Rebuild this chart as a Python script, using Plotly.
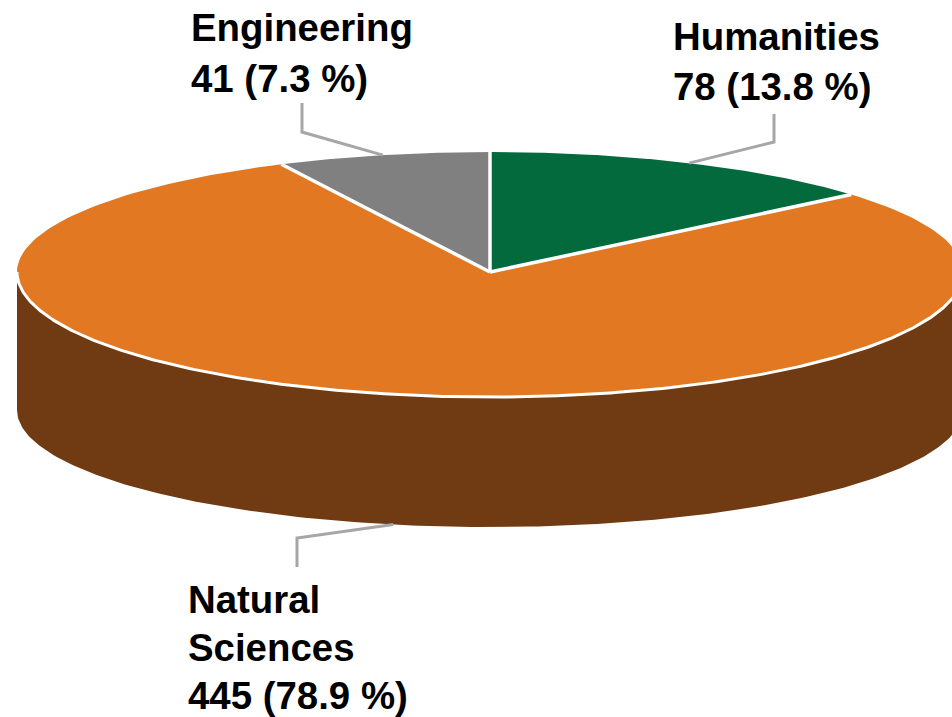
import numpy as np
import plotly.graph_objects as go

# Datos del grafico (sentido horario desde las 12)
categorias = ["Humanities", "Natural Sciences", "Engineering"]
valores = [78, 445, 41]
colores = ["#026A3C", "#E27822", "#808080"]
color_lateral = "#703B12"
color_guia = "#A6A6A6"

# Lineas de cada etiqueta: x izquierda, y central
lineas_etiqueta = {
    "Humanities": [("Humanities", 673, 36)],
    "Natural Sciences": [("Natural", 188, 599), ("Sciences", 188, 647)],
    "Engineering": [("Engineering", 191, 27)],
}
linea_valor = {"Humanities": (673, 86), "Natural Sciences": (188, 695), "Engineering": (191, 78)}
# Codo de la linea guia y final junto al texto
guias = {
    "Humanities": [(774, 142), (774, 114)],
    "Natural Sciences": [(297, 538), (297, 567)],
    "Engineering": [(302, 132), (302, 103)],
}

# Geometria de la elipse en pixeles
cx, cy = 490, 272
rx = 473
ry_atras, ry_frente = 120, 125
cy_base, ry_base = 410, 117


def borde(ang):
    # angulo en grados, 0 arriba y sentido horario
    a = np.radians(ang)
    c = np.cos(a)
    return cx + rx * np.sin(a), cy - c * np.where(c > 0, ry_atras, ry_frente)


def borde_base(ang):
    a = np.radians(ang)
    return cx + rx * np.sin(a), cy_base - ry_base * np.cos(a)


total = sum(valores)
angulos = np.cumsum([0] + [v / total * 360 for v in valores])

fig = go.Figure()

# Lateral: solo la parte frontal de cada porcion
for i, cat in enumerate(categorias):
    ini, fin = max(angulos[i], 90), min(angulos[i + 1], 270)
    if fin <= ini:
        continue
    t = np.linspace(ini, fin, 200)
    xa, ya = borde(t)
    xb, yb = borde_base(t[::-1])
    fig.add_trace(go.Scatter(x=np.r_[xa, xb], y=np.r_[ya, yb], mode="lines", fill="toself",
                             fillcolor=color_lateral, line=dict(width=0), hoverinfo="skip"))

# Cara superior
for i, cat in enumerate(categorias):
    t = np.linspace(angulos[i], angulos[i + 1], 200)
    xa, ya = borde(t)
    fig.add_trace(go.Scatter(x=np.r_[cx, xa, cx], y=np.r_[cy, ya, cy], mode="lines", fill="toself",
                             fillcolor=colores[i], line=dict(width=0), hoverinfo="skip"))

# Separaciones blancas: radios y borde frontal
for ang in angulos[:-1]:
    xa, ya = borde(ang)
    fig.add_trace(go.Scatter(x=[cx, float(xa)], y=[cy, float(ya)], mode="lines",
                             line=dict(color="white", width=3.5), hoverinfo="skip"))
t = np.linspace(90, 270, 300)
xa, ya = borde(t)
fig.add_trace(go.Scatter(x=xa, y=ya, mode="lines", line=dict(color="white", width=3), hoverinfo="skip"))

# Lineas guia y etiquetas
anotaciones = []
for i, cat in enumerate(categorias):
    medio = (angulos[i] + angulos[i + 1]) / 2
    mx, my = borde(medio)
    if np.cos(np.radians(medio)) < 0:
        my = borde_base(medio)[1]
    puntos = [(float(mx), float(my))] + guias[cat]
    fig.add_trace(go.Scatter(x=[p[0] for p in puntos], y=[p[1] for p in puntos], mode="lines",
                             line=dict(color=color_guia, width=3), hoverinfo="skip"))
    textos = list(lineas_etiqueta[cat])
    vx, vy = linea_valor[cat]
    textos.append((f"{valores[i]} ({valores[i] / total * 100:.1f} %)", vx, vy))
    for texto, x, y in textos:
        anotaciones.append(dict(x=x, y=y, text=f"<b>{texto}</b>", showarrow=False, xanchor="left",
                                yanchor="middle", xshift=-2, font=dict(family="Liberation Sans", size=38.4, color="black")))

fig.update_layout(
    width=952, height=717, margin=dict(l=0, r=0, t=0, b=0),
    paper_bgcolor="white", plot_bgcolor="white", showlegend=False,
    xaxis=dict(range=[0, 952], visible=False, fixedrange=True),
    yaxis=dict(range=[717, 0], visible=False, fixedrange=True),
    annotations=anotaciones,
)

fig.write_html("out.html", config={"displayModeBar": False},
               post_script="document.body.style.margin='0';document.documentElement.style.overflow='hidden';")
